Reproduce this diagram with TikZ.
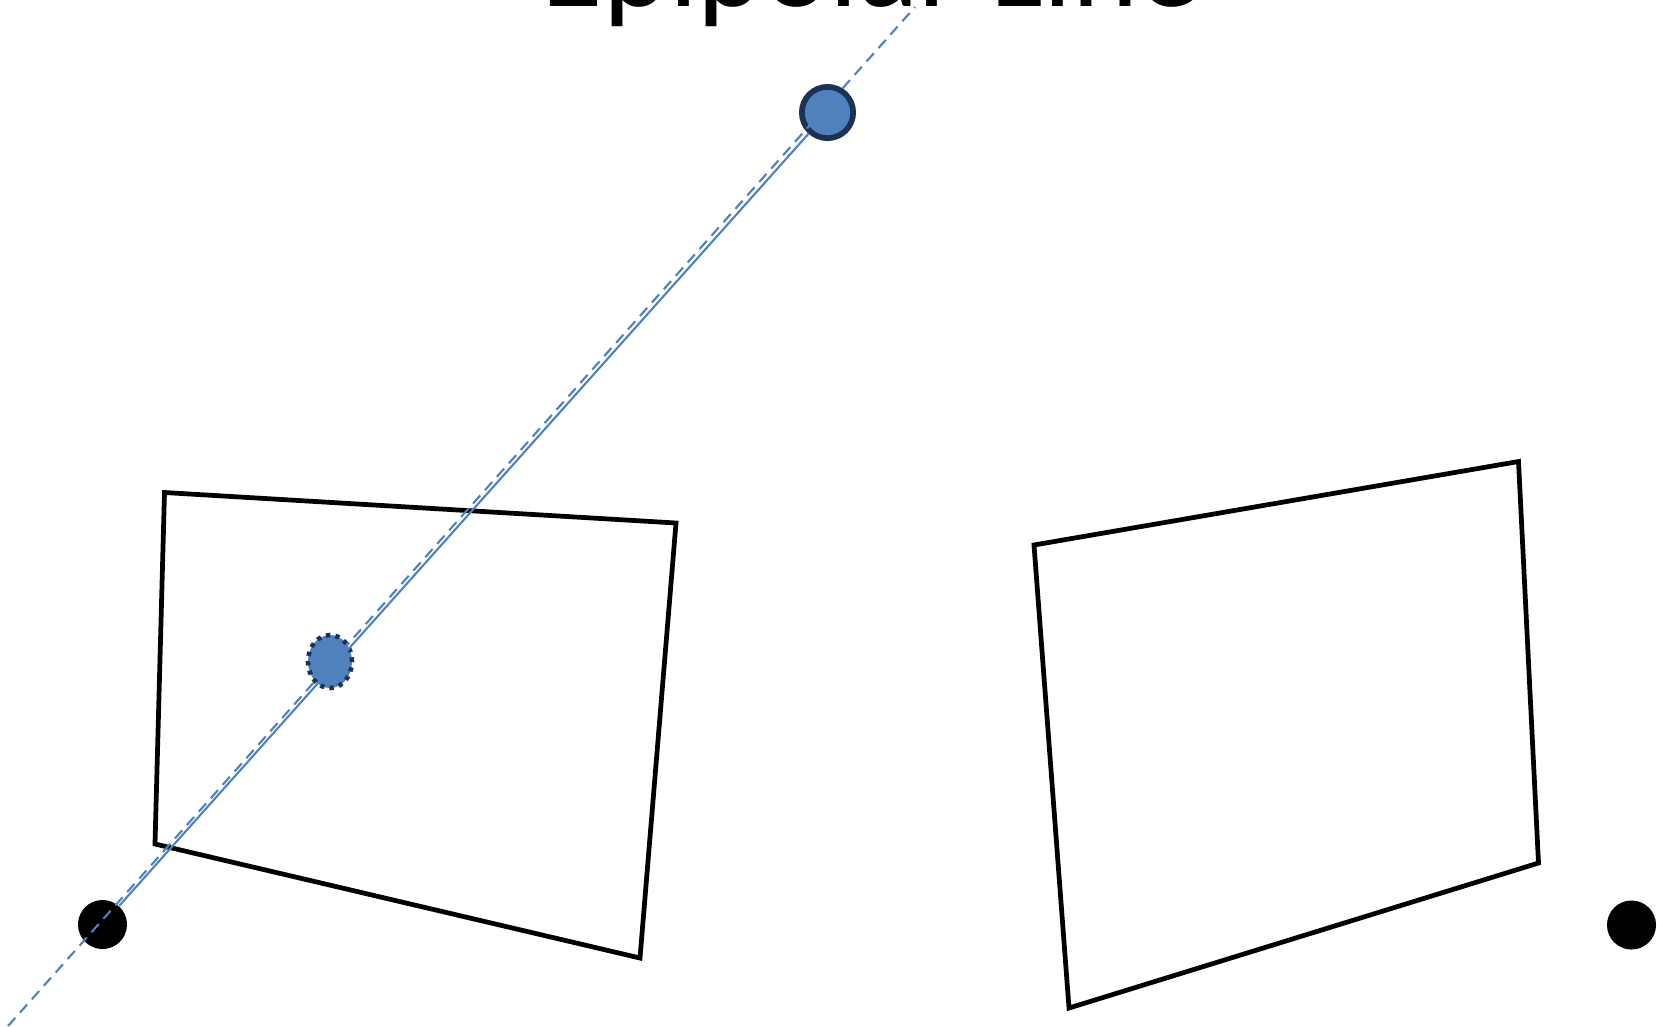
\documentclass[tikz,border=0pt]{standalone}
\usepackage{fontspec}
\setmainfont{Carlito}
\usetikzlibrary{shapes.geometric}
\definecolor{ptblue}{RGB}{79,129,189}
\definecolor{ptnavy}{RGB}{28,50,84}
\begin{document}
\begin{tikzpicture}[x=0.01cm,y=-0.01cm,
  quad/.style={draw=black,line width=1.35pt,line join=miter},
  cam/.style={circle,fill=black,inner sep=0pt,minimum size=0.49cm},
  worldpt/.style={circle,fill=ptblue,draw=ptnavy,line width=1.62pt,inner sep=0pt,minimum size=0.513cm},
  imgpt/.style={ellipse,fill=ptblue,draw=ptnavy,line width=1.3pt,dash pattern=on 1.2pt off 1.5pt,inner sep=0pt,minimum width=0.44cm,minimum height=0.53cm},
  ray/.style={draw=ptblue,line width=0.6pt},
  epiline/.style={draw=ptblue,line width=0.6pt,dash pattern=on 3.1pt off 2pt}]
\useasboundingbox (0,0) rectangle (1657,1026);
\clip (0,0) rectangle (1657,1026);
% title (cut off at top, as in the reference)
\node[anchor=base,inner sep=0pt,font=\fontsize{35.7pt}{40pt}\selectfont] (title) at (871.5,6) {Epipolar Line};
% image planes
\draw[quad] (164.5,492.5) -- (676,523) -- (640,958) -- (155,844) -- cycle;
\draw[quad] (1034,545) -- (1518.5,461.5) -- (1538.5,863) -- (1069,1008) -- cycle;
% camera centres and points
\node[cam] (c1) at (102.5,924.5) {};
\node[cam] (c2) at (1631.5,925) {};
\node[worldpt] (X) at (827.5,112.5) {};
\node[imgpt] (x) at (330,661.5) {};
% lines
\coordinate (eA) at (8,1026);
\coordinate (eB) at (915,7);
\draw[epiline] (eA) -- (eB);
\draw[ray] (c1) -- (X);
\end{tikzpicture}
\end{document}
